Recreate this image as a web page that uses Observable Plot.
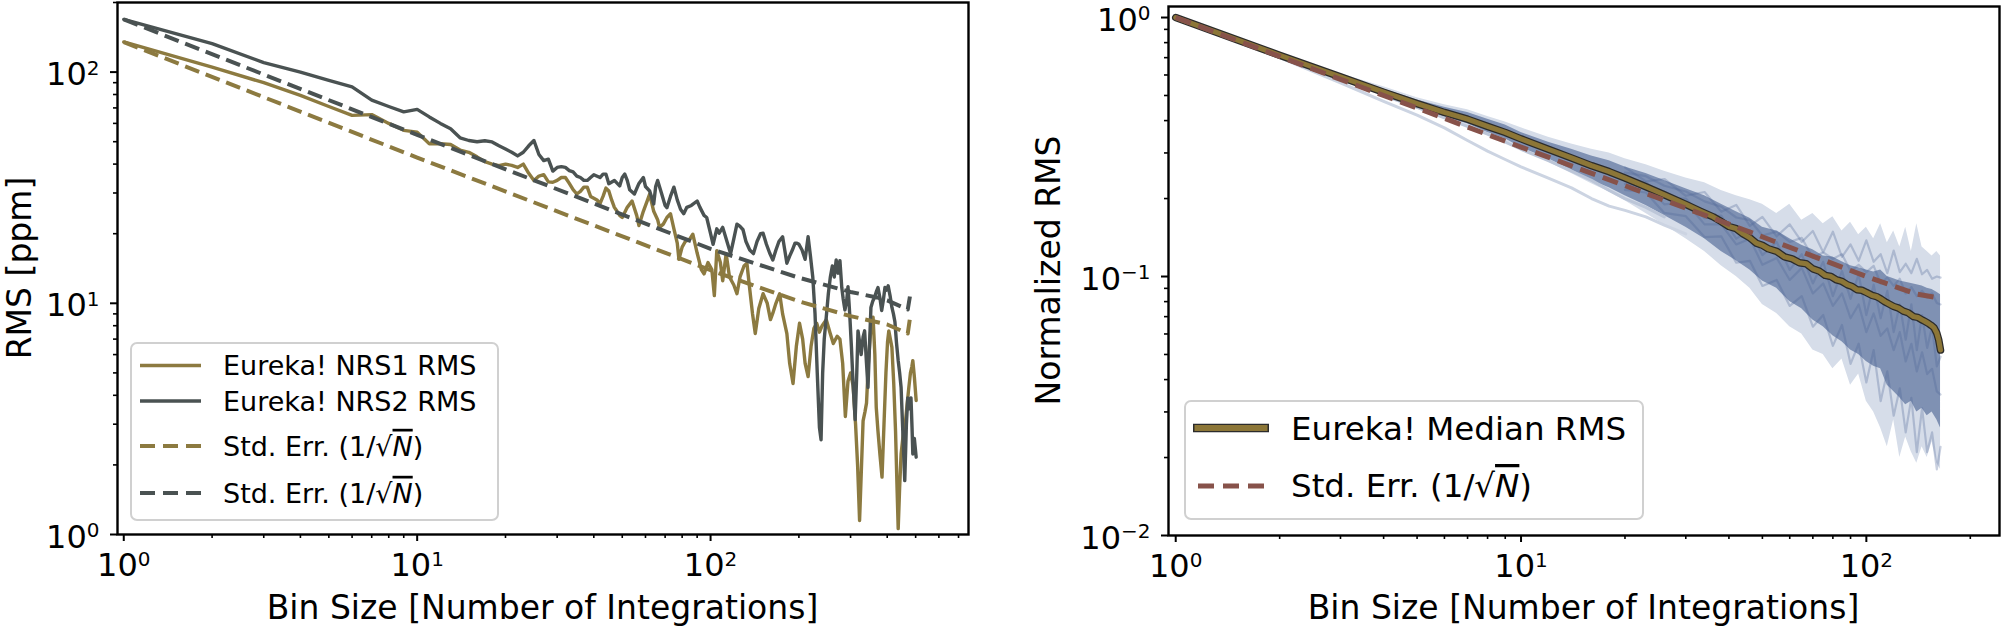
<!DOCTYPE html>
<html><head><meta charset="utf-8">
<script src="https://cdn.jsdelivr.net/npm/d3@7"></script>
<script src="https://cdn.jsdelivr.net/npm/@observablehq/plot@0.6"></script>
<style>
html,body{margin:0;padding:0;background:#fff;}
#page{position:relative;width:2001px;height:626px;overflow:hidden;font-family:"DejaVu Sans",sans-serif;background:#fff;}
#left{position:absolute;left:0;top:0;}
#right{position:absolute;left:1000px;top:0;}
#overlay{position:absolute;left:0;top:0;font-family:"DejaVu Sans",sans-serif;}
</style></head><body>
<div id="page"><div id="left"></div><div id="right"></div><svg id="overlay" width="2001" height="626"></svg></div>
<script>
// ---------------- Left panel data (RMS [ppm] vs bin size) ----------------
const nrs1Bins = [1,2,3,4,5,6,7,8,9,10,11,12,13,14,15,16,17,18,19,20,21,22,23,24,25,26,27,28,29,30,31,32,33,34,35,36,37,38,39,40,41,42,43,44,45,46,47,48,49,50,52,54,56,57,59,61,62,64,66,67,69,71,73,75,77,78,80,82,85,87,90,93,95,98,101,103,105,108,110,113,116,120,123,126,130,133,136,139,142,146,151,156,160,163,167,172,176,182,186,191,196,201,206,210,215,220,225,230,235,240,248,255,262,270,276,282,288,294,300,306,312,317,322,327,331,336,340,345,351,358,363,367,372,378,384,390,396,401,405,410,415,421,427,432,436,441,446,452,457,462,468,474,480,485,489,495,502];
const nrs1Rms = [135,105,90,79.3,71,65,65.5,60,56,55,49,49,48.6,46,45,43,41,40,39.4,40,39.5,38.7,40,36.5,34,35.5,36,33.5,33.4,34,35,35,33,31,29.7,30.5,31.8,31.8,29,28.5,28,27,29,31.5,30.6,28,26,25,24,23.5,26,27.7,24,21.7,25,28,29.7,25,23,21.3,22,23.5,24.4,21,18.2,15.5,17.5,18.5,19,19.9,16.5,14,13.4,15,14,10.8,16.9,15,12.5,16.4,13,12,11.0,13,14.5,14.9,11.5,9,7.4,9.5,11.0,10,8.5,9.06,10,11.0,9,7.4,5.5,4.5,6.5,8.2,7,5.5,4.82,6.5,7.8,8.2,7.5,8,8.5,7.5,6.7,7.2,7.0,5.5,3.24,4.6,5.0,4.4,3.0,2.0,1.15,2.0,3.1,3.4,3.7,5.5,7.5,8.7,6.0,3.55,2.8,2.2,1.77,3.0,5.0,6.8,7.6,7.0,6.45,4.5,2.8,1.6,1.06,1.6,2.23,2.6,2.9,3.11,3.7,4.33,5.0,5.3,5.65,4.8,3.8];

const nrs2Bins = [1,2,3,4,5,6,7,8,9,10,11,12,13,14,15,16,17,18,19,20,21,22,23,24,25,26,27,28,29,30,31,32,33,34,35,36,37,38,39,40,42,43,44,45,47,49,50,51,52,53,55,57,59,60,62,64,65,66,68,70,71,73,75,77,79,81,83,86,90,92,95,97,100,102,105,107,110,113,117,120,123,126,129,132,136,140,144,148,151,155,159,163,167,171,176,179,182,186,190,194,197,200,205,210,215,219,223,227,231,235,238,241,244,248,252,256,260,264,268,272,276,280,283,287,291,294,298,302,306,311,315,318,322,326,331,335,340,344,348,352,357,362,367,372,378,383,388,393,398,403,409,415,420,425,430,436,441,446,452,459,465,470,476,482,486,489,495,502];
const nrs2Rms = [169,132.7,110,100,92,86.3,75.6,71,67.3,69,64,60,56.9,52,50.6,50,50.5,49.9,48,46.5,45,43.4,45,48,50.6,44,41.4,42,37.3,38.7,39,38.7,37.5,37,35.5,35,34,34,35,36,35,36.2,36.2,32.9,34,32.2,35,36.2,34,31,29.7,33,35,32,30.6,26.9,32,34,30,26.5,25.9,29,31.8,28,25.5,24.4,26,26.5,27.7,26,24,23.5,20,18,21,20.1,21.3,19,16.4,19,22,21.5,20.8,18.5,17,16.4,18.5,20,20.1,18,16.5,15.4,17,18.5,19.4,17,14.9,16,17,18.2,18.2,18,17,15.5,19.4,16,13.0,9,5,2.9,2.57,5,7,8.76,11,13,14.5,13,15.4,13.5,15.3,11.7,10.5,9.36,10.3,11.8,9,6.5,4.5,3.14,5,7.6,6.8,6.0,7.16,7.6,5.5,4.33,6.5,9.6,10.2,10.6,11.2,11.7,10.5,9.3,10.3,11.7,11.4,11.9,10.8,9.6,9.0,8.3,6.8,5.65,5.0,4.33,2.8,1.71,3.0,3.9,3.5,3.9,2.9,2.23,2.6,2.16];

const se1Bins = [1,10,100,200,300,400,470,478];
const se1Rms  = [134.8,42.7,13.9,10.2,8.8,8.1,7.4,8.6];
const se2Bins = [1,10,100,200,300,369,400,470,478];
const se2Rms  = [169,53.5,17.2,12.9,11.2,10.6,10.3,9.4,10.7];

// ---------------- Right panel data (normalized RMS) ----------------
const medBins = [1,2,3,4,5,6,7,8,9,10,12,14,16,18,20,23,26,30,33,36,38,40,42,44,46,48,50,52,55,58,61,64,67,70,73,76,79,82,85,88,91,94,97,100,104,107,110,113,116,120,124,128,132,137,141,145,148,151,154,157,160,162,164];
const medRms  = [1.0,0.715,0.59,0.515,0.465,0.43,0.405,0.38,0.36,0.34,0.31,0.287,0.268,0.254,0.24,0.222,0.207,0.19,0.179,0.17,0.163,0.156,0.153,0.146,0.141,0.1345,0.132,0.128,0.125,0.119,0.117,0.113,0.112,0.107,0.105,0.101,0.1,0.097,0.0957,0.093,0.0915,0.0889,0.0885,0.0868,0.0845,0.0837,0.082,0.080,0.0785,0.0766,0.0755,0.0735,0.0725,0.070,0.0695,0.068,0.067,0.066,0.0648,0.0635,0.0604,0.057,0.052];
const seBinsR = [1,10,43,100,140,164];
const seRmsR  = [1.0,0.316,0.1536,0.1,0.0855,0.0824];

const bandBins = [1,2,3,4,5,6,7,8,9,10,12,14,16,18,20,23,26,30,34,38,42,46,50,55,60,65,70,75,80,85,90,95,100,105,110,115,120,125,130,135,140,145,150,155,160,164];
const faintLo = [1.0,0.70,0.575,0.495,0.443,0.405,0.38,0.352,0.332,0.307,0.277,0.25,0.228,0.212,0.196,0.175,0.158,0.14,0.125,0.11,0.1,0.09,0.078,0.072,0.064,0.06,0.052,0.05,0.044,0.048,0.038,0.042,0.033,0.03,0.026,0.022,0.028,0.02,0.024,0.021,0.019,0.022,0.02,0.023,0.019,0.018];
const faintHi = [1.0,0.73,0.607,0.54,0.49,0.46,0.44,0.415,0.395,0.375,0.345,0.325,0.31,0.3,0.285,0.27,0.255,0.24,0.23,0.215,0.205,0.198,0.19,0.175,0.19,0.165,0.175,0.16,0.17,0.15,0.162,0.145,0.155,0.14,0.16,0.135,0.15,0.13,0.155,0.125,0.16,0.13,0.125,0.12,0.125,0.12];
const denseLo = [1.0,0.705,0.58,0.50,0.45,0.413,0.389,0.36,0.34,0.315,0.285,0.258,0.235,0.22,0.205,0.188,0.172,0.155,0.14,0.125,0.115,0.106,0.096,0.09,0.08,0.075,0.068,0.064,0.059,0.056,0.052,0.05,0.047,0.045,0.044,0.038,0.036,0.034,0.032,0.033,0.03,0.031,0.029,0.03,0.028,0.026];
const denseHi = [1.0,0.725,0.60,0.53,0.48,0.45,0.43,0.405,0.385,0.36,0.33,0.31,0.292,0.28,0.265,0.25,0.235,0.218,0.205,0.19,0.178,0.168,0.155,0.15,0.14,0.132,0.127,0.12,0.119,0.114,0.11,0.108,0.106,0.104,0.106,0.1,0.098,0.096,0.095,0.094,0.093,0.092,0.09,0.089,0.087,0.085];

const texBins = [20,23,26,30,34,38,42,46,50,55,60,65,70,75,80,85,90,95,100,105,110,115,120,125,130,135,140,145,150,155,160,164];
const texA = [0.264,0.233,0.238,0.205,0.212,0.178,0.189,0.157,0.170,0.143,0.159,0.136,0.150,0.124,0.149,0.119,0.133,0.115,0.138,0.114,0.122,0.103,0.126,0.104,0.112,0.103,0.117,0.102,0.106,0.098,0.100,0.099];
const texB = [0.216,0.211,0.176,0.171,0.142,0.143,0.113,0.115,0.092,0.097,0.077,0.084,0.064,0.071,0.054,0.065,0.046,0.055,0.039,0.052,0.033,0.043,0.029,0.037,0.025,0.034,0.021,0.031,0.021,0.025,0.018,0.022];
const texC = [0.24,0.231,0.201,0.200,0.168,0.172,0.140,0.151,0.121,0.136,0.106,0.122,0.094,0.114,0.084,0.105,0.082,0.102,0.071,0.093,0.069,0.088,0.061,0.078,0.057,0.078,0.052,0.071,0.053,0.064,0.045,0.049];
const texD = [0.228,0.222,0.190,0.194,0.159,0.159,0.133,0.14,0.111,0.118,0.097,0.108,0.086,0.094,0.077,0.086,0.069,0.078,0.061,0.072,0.059,0.063,0.052,0.061,0.047,0.055,0.043,0.051,0.042,0.044,0.036,0.035];
const texE = [0.252,0.244,0.224,0.213,0.195,0.186,0.169,0.165,0.144,0.149,0.136,0.141,0.118,0.124,0.117,0.122,0.105,0.111,0.104,0.110,0.094,0.099,0.092,0.098,0.086,0.091,0.084,0.088,0.083,0.086,0.079,0.078];

const lowBins1 = [1,2,3,4,5,6,7,8,9,10,12,14,16,18,20,23,26,30];
const lowRms1  = [1.0,0.70,0.56,0.475,0.42,0.375,0.335,0.305,0.283,0.265,0.24,0.22,0.2,0.187,0.18,0.17,0.158,0.146];
const lowBins2 = [4,5,6,7,8,10,12,14,16,18,20,23,26];
const lowRms2  = [0.50,0.45,0.41,0.38,0.355,0.31,0.28,0.255,0.235,0.215,0.2,0.185,0.17];

// tick values
const majorXL = [1,10,100], minorXL = [2,3,4,5,6,7,8,9,20,30,40,50,60,70,80,90,200,300,400,500,600,700];
const majorYL = [1,10,100], minorYL = [2,3,4,5,6,7,8,9,20,30,40,50,60,70,80,90,200];
const majorXR = [1,10,100], minorXR = [2,3,4,5,6,7,8,9,20,30,40,50,60,70,80,90,200];
const majorYR = [0.01,0.1,1], minorYR = [0.02,0.03,0.04,0.05,0.06,0.07,0.08,0.09,0.2,0.3,0.4,0.5,0.6,0.7,0.8,0.9];

// ---------------- helpers ----------------
const zip = (xs, ys) => xs.map((x, i) => ({N: x, v: ys[i]}));
const fmtPow = v => { const e = Math.round(Math.log10(v)); return "10^" + (e < 0 ? "\u2212" + (-e) : String(e)); };
const NS = "http://www.w3.org/2000/svg";
function superscriptify(svg) {
  svg.querySelectorAll("text").forEach(t => {
    const m = /^10\^(.+)$/.exec(t.textContent);
    if (!m) return;
    t.textContent = "10";
    const ts = document.createElementNS(NS, "tspan");
    ts.setAttribute("font-size", "20");
    ts.setAttribute("dy", "-10.5");
    ts.textContent = m[1];
    t.appendChild(ts);
    const g = t.closest("g[aria-label]");
    if (g && /y-axis/.test(g.getAttribute("aria-label"))) {
      const tr = t.getAttribute("transform") || "";
      t.setAttribute("transform", tr + " translate(0,2.8)");
    }
  });
}
function axes(mx, my, Mx, My) {
  return [
    Plot.axisX({ticks: Mx, tickFormat: fmtPow, tickSize: 7, tickPadding: 12, fontSize: 32, strokeWidth: 2, label: null}),
    Plot.axisX({ticks: mx, tickFormat: () => "", tickSize: 4, strokeWidth: 1.6, label: null}),
    Plot.axisY({ticks: My, tickFormat: fmtPow, tickSize: 7, tickPadding: 11, fontSize: 32, strokeWidth: 2, label: null}),
    Plot.axisY({ticks: my, tickFormat: () => "", tickSize: 4, strokeWidth: 1.6, label: null})
  ];
}

const gold = "#8c7a40", slate = "#4a5252", brick = "#87524a", medGold = "#8c7637", blue = "#4d6595";

// ---------------- Left plot ----------------
const left = Plot.plot({
  width: 1000, height: 626,
  marginLeft: 117, marginRight: 32, marginTop: 2, marginBottom: 92,
  x: {type: "log", domain: [0.952, 757], label: null},
  y: {type: "log", domain: [1, 200], label: null},
  style: {fontFamily: "DejaVu Sans", color: "black", background: "transparent", overflow: "visible"},
  marks: [
    Plot.line(zip(nrs1Bins, nrs1Rms), {x: "N", y: "v", stroke: gold, strokeWidth: 3.4}),
    Plot.line(zip(nrs2Bins, nrs2Rms), {x: "N", y: "v", stroke: slate, strokeWidth: 3.4}),
    Plot.line(zip(se1Bins, se1Rms), {x: "N", y: "v", stroke: gold, strokeWidth: 4, strokeDasharray: "15,7", strokeLinecap: "butt"}),
    Plot.line(zip(se2Bins, se2Rms), {x: "N", y: "v", stroke: slate, strokeWidth: 4, strokeDasharray: "15,7", strokeLinecap: "butt"}),
    Plot.frame({stroke: "black", strokeWidth: 2.4}),
    ...axes(minorXL, minorYL, majorXL, majorYL)
  ]
});
superscriptify(left);
document.getElementById("left").appendChild(left);

// ---------------- Right plot ----------------
const band = bandBins.map((n, i) => ({N: n, fl: faintLo[i], fh: faintHi[i], dl: denseLo[i], dh: denseHi[i]}));
const texLines = [texA, texB, texC, texD, texE].flatMap((arr, k) => arr.map((v, i) => ({N: texBins[i], v, k})));
const right = Plot.plot({
  width: 1001, height: 626,
  marginLeft: 168, marginRight: 2, marginTop: 6, marginBottom: 91,
  x: {type: "log", domain: [0.953, 243], label: null},
  y: {type: "log", domain: [0.01, 1.103], label: null},
  style: {fontFamily: "DejaVu Sans", color: "black", background: "transparent", overflow: "visible"},
  marks: [
    Plot.areaY(band, {x: "N", y1: "fl", y2: "fh", fill: "#d6dde9"}),
    Plot.areaY(band, {x: "N", y1: "dl", y2: "dh", fill: "#7f91b3"}),
    Plot.line(zip(lowBins1, lowRms1), {x: "N", y: "v", stroke: "#ccd4e2", strokeWidth: 3}),
    Plot.line(zip(lowBins2, lowRms2), {x: "N", y: "v", stroke: "#bcc6d8", strokeWidth: 3}),
    Plot.line(texLines, {x: "N", y: "v", z: "k", stroke: blue, strokeOpacity: 0.3, strokeWidth: 2.2}),
    Plot.line(zip(medBins, medRms), {x: "N", y: "v", stroke: "#2b2b2b", strokeWidth: 7.5}),
    Plot.line(zip(medBins, medRms), {x: "N", y: "v", stroke: medGold, strokeWidth: 5}),
    Plot.line(zip(seBinsR, seRmsR), {x: "N", y: "v", stroke: brick, strokeWidth: 5, strokeDasharray: "16,8", strokeLinecap: "butt"}),
    Plot.frame({stroke: "black", strokeWidth: 2.4}),
    ...axes(minorXR, minorYR, majorXR, majorYR)
  ]
});
superscriptify(right);
document.getElementById("right").appendChild(right);

// ---------------- Overlay: axis labels and legends ----------------
const ov = d3.select("#overlay");
ov.append("text").attr("x", 542.5).attr("y", 619).attr("text-anchor", "middle").attr("font-size", 33).text("Bin Size [Number of Integrations]");
ov.append("text").attr("x", 1583.5).attr("y", 619).attr("text-anchor", "middle").attr("font-size", 33).text("Bin Size [Number of Integrations]");
ov.append("text").attr("transform", "translate(31,268) rotate(-90)").attr("text-anchor", "middle").attr("font-size", 33).text("RMS [ppm]");
ov.append("text").attr("transform", "translate(1060,270.5) rotate(-90)").attr("text-anchor", "middle").attr("font-size", 33).text("Normalized RMS");

function stdErrText(g, x, y, size) {
  const t = g.append("text").attr("x", x).attr("y", y).attr("font-size", size);
  t.append("tspan").text("Std. Err. (1/\u221A");
  t.append("tspan").attr("font-style", "italic").attr("text-decoration", "overline").text("N");
  t.append("tspan").text(")");
}
// left legend
const lg = ov.append("g");
lg.append("rect").attr("x", 131).attr("y", 343).attr("width", 367).attr("height", 177).attr("rx", 6)
  .attr("fill", "white").attr("fill-opacity", 0.8).attr("stroke", "#d0d0d0").attr("stroke-width", 2);
const leftRows = [
  {y: 365.5, c: gold, dash: null, label: "Eureka! NRS1 RMS"},
  {y: 401, c: slate, dash: null, label: "Eureka! NRS2 RMS"},
  {y: 446, c: gold, dash: "15,8", label: null},
  {y: 493, c: slate, dash: "15,8", label: null}
];
leftRows.forEach(r => {
  const l = lg.append("line").attr("x1", 140).attr("x2", 201).attr("y1", r.y).attr("y2", r.y)
    .attr("stroke", r.c).attr("stroke-width", r.dash ? 4 : 3.4);
  if (r.dash) l.attr("stroke-dasharray", r.dash);
  if (r.label) lg.append("text").attr("x", 223).attr("y", r.y + 9.8).attr("font-size", 27).text(r.label);
  else stdErrText(lg, 223, r.y + 9.8, 27);
});
// right legend
const rg = ov.append("g");
rg.append("rect").attr("x", 1185).attr("y", 401).attr("width", 458).attr("height", 118).attr("rx", 6)
  .attr("fill", "white").attr("fill-opacity", 0.8).attr("stroke", "#d0d0d0").attr("stroke-width", 2);
rg.append("line").attr("x1", 1193).attr("x2", 1269).attr("y1", 428).attr("y2", 428).attr("stroke", "#2b2b2b").attr("stroke-width", 8.5);
rg.append("line").attr("x1", 1194.5).attr("x2", 1267.5).attr("y1", 428).attr("y2", 428).attr("stroke", medGold).attr("stroke-width", 6);
rg.append("text").attr("x", 1291).attr("y", 440).attr("font-size", 32.5).text("Eureka! Median RMS");
rg.append("line").attr("x1", 1198).attr("x2", 1264).attr("y1", 486).attr("y2", 486).attr("stroke", brick).attr("stroke-width", 5).attr("stroke-dasharray", "16,9");
stdErrText(rg, 1291, 497, 32.5);
</script>
</body></html>
